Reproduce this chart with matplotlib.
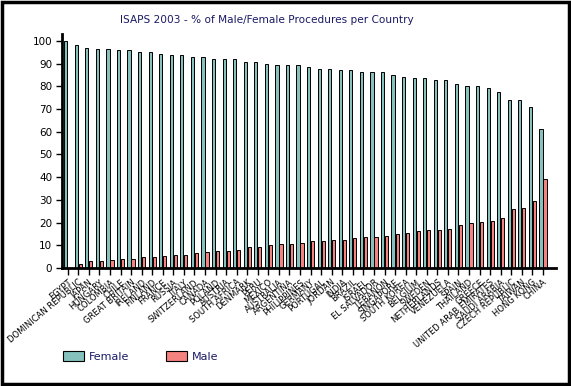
import numpy as np
import matplotlib
matplotlib.use('Agg')
import matplotlib.pyplot as plt
import matplotlib.patches as mpatches

# ── Data ─────────────────────────────────────────────────────────────────────
countries = [
    'EGYPT', 'DOMINICAN REPUBLIC', 'JAPAN', 'HUNGARY', 'COLOMBIA', 'CHILE',
    'GREAT BRITAIN', 'IRELAND', 'FINLAND', 'FRANCE', 'RUSSIA', 'ITALY',
    'SWITZERLAND', 'CANADA', 'POLAND', 'AUSTRIA', 'SOUTH AFRICA', 'DENMARK',
    'PERU', 'MEXICO', 'AUSTRALIA', 'ARGENTINA', 'PHILIPPINES', 'GERMANY',
    'PORTUGAL', 'JORDAN', 'INDIA', 'BRAZIL', 'ISRAEL', 'EL SALVADOR',
    'LEBANON', 'SINGAPORE', 'SOUTH KOREA', 'BELGIUM', 'SWEDEN', 'NETHERLANDS',
    'VENEZUELA', 'SPAIN', 'THAILAND', 'GREECE', 'UNITED ARAB EMIRATES',
    'SAUDI ARABIA', 'CZECH REPUBLIC', 'TAIWAN', 'HONG KONG', 'CHINA',
]

female = [
    100, 98, 97, 96.5, 96.5, 96, 96, 95, 95, 94.4, 94, 94, 93, 93, 92.2,
    92.2, 92.1, 90.9, 90.8, 89.7, 89.6, 89.3, 89.2, 88.3, 87.8, 87.7, 87.4,
    87, 86.5, 86.4, 86.1, 84.9, 84.3, 83.6, 83.5, 83, 82.9, 81, 80, 80, 79.4,
    77.7, 73.8, 73.8, 70.7, 61.1,
]

male = [
    0, 1.8, 3.2, 3.2, 3.7, 4, 4.1, 4.8, 4.8, 5.4, 5.9, 5.9, 6.6, 7.2, 7.6,
    7.6, 7.9, 9.4, 9.2, 10.2, 10.7, 10.7, 11.1, 12, 12, 12.3, 12.4, 13, 13.8,
    13.8, 14.2, 15.1, 15.5, 16.4, 16.8, 16.8, 17.3, 19, 20, 20.4, 20.8, 22.1,
    26.1, 26.4, 29.6, 39.1,
]

yticks = list(range(0, 101, 10))

FEMALE_COLOR = '#86c1bd'
MALE_COLOR = '#f4827e'
NAVY = '#1a1a66'

# ── Figure ───────────────────────────────────────────────────────────────────
fig = plt.figure(figsize=(5.71, 3.86), dpi=100)
ax = fig.add_axes([0.1086, 0.3057, 0.865, 0.606])

x = np.arange(len(countries))
ax.bar(x - 0.19, female, width=0.3, color=FEMALE_COLOR, edgecolor='black',
       linewidth=0.7, label='Female')
ax.bar(x + 0.19, male, width=0.3, color=MALE_COLOR, edgecolor='black',
       linewidth=0.7, label='Male')

ax.set_xlim(-0.54, len(countries) - 1 + 1.23)
ax.set_ylim(0, 103)
ax.set_yticks(yticks)
ax.set_yticklabels([str(v) for v in yticks], fontsize=7.5)
ax.set_xticks(x)
ax.set_xticklabels(countries, rotation=40, ha='right', rotation_mode='anchor',
                   fontsize=6)
ax.tick_params(axis='x', length=5, width=1, pad=2)
ax.tick_params(axis='y', length=4, width=1, pad=3)

for side in ['top', 'right']:
    ax.spines[side].set_visible(False)
for side in ['left', 'bottom']:
    ax.spines[side].set_linewidth(2)

fig.text(0.468, 0.948, 'ISAPS 2003 - % of Male/Female Procedures per Country',
         ha='center', va='center', fontsize=7.6, color=NAVY)

# legend at the bottom-left
handles = [mpatches.Patch(facecolor=FEMALE_COLOR, edgecolor='black', lw=0.8),
           mpatches.Patch(facecolor=MALE_COLOR, edgecolor='black', lw=0.8)]
leg = fig.legend(handles, ['Female', 'Male'], loc='center left',
                 bbox_to_anchor=(0.093, 0.076), ncol=2, frameon=False,
                 fontsize=8, handlelength=1.9, handleheight=1.0,
                 handletextpad=0.45, columnspacing=3.3)
for t in leg.get_texts():
    t.set_color(NAVY)

# black frame around the whole picture
fig.patches.append(mpatches.Rectangle((0.003, 0.004), 0.994, 0.992,
                                      transform=fig.transFigure, fill=False,
                                      edgecolor='black', linewidth=2.5))

fig.savefig('out.png', dpi=100)
